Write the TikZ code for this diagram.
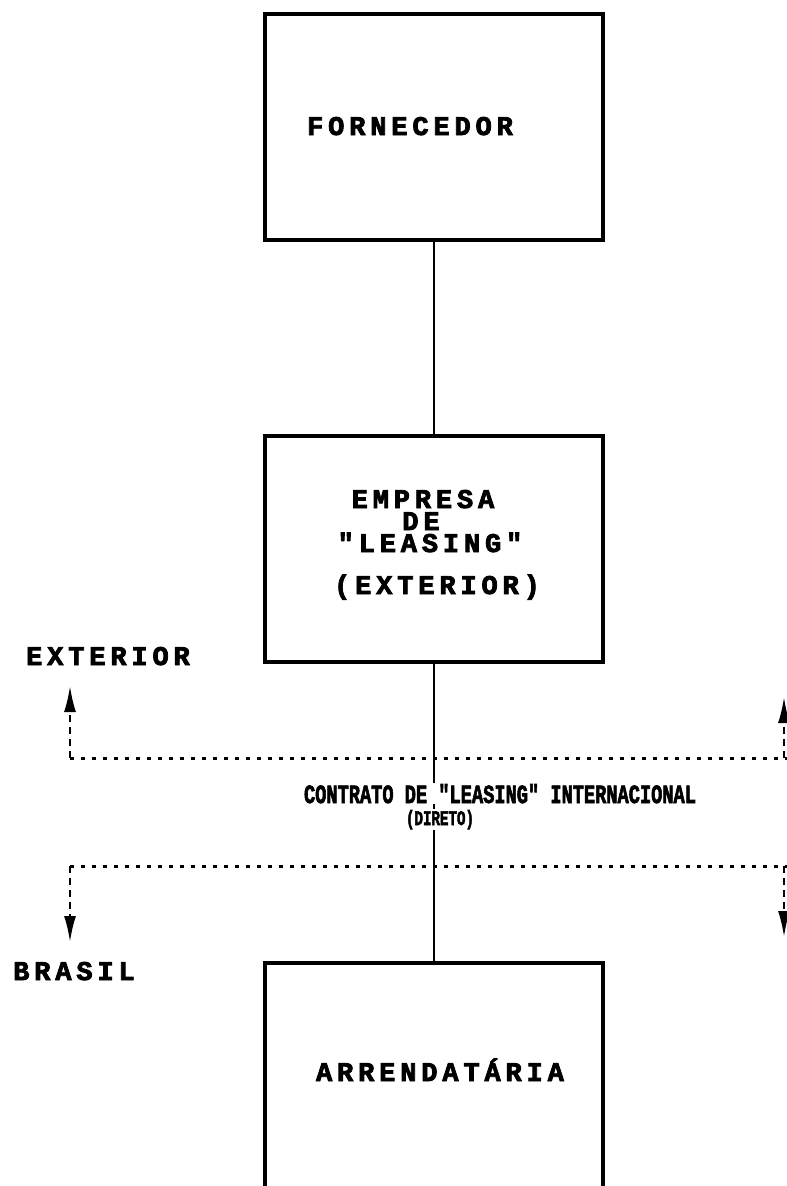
\documentclass[tikz,border=0pt]{standalone}
\usepackage{fontspec}
\setmainfont{Liberation Mono}
\newfontfamily\boxfont[LetterSpace=18,FakeBold=3]{Liberation Mono}
\newfontfamily\smallfont[FakeBold=3]{Liberation Mono}
\usetikzlibrary{arrows.meta}
\begin{document}
\begin{tikzpicture}[x=1pt,y=-1pt,
  box/.style={draw, line width=3.2pt, minimum width=338pt, minimum height=226pt, inner sep=0pt},
  lbl/.style={font=\boxfont\bfseries\fontsize{27}{27}\selectfont, inner sep=0pt, anchor=base},
  conn/.style={line width=2pt},
  dotline/.style={line width=3pt, dash pattern=on 4pt off 7pt},
  dashline/.style={line width=2.2pt, dash pattern=on 7pt off 5pt},
  tipline/.style={line width=2.2pt, -{Latex[length=26pt,width=12pt]}},
  ctext/.style={font=\smallfont\bfseries, fill=white, inner sep=1pt, anchor=base}]
\clip (0,0) rectangle (787,1186);
\fill[white] (0,0) rectangle (787,1186);
% boxes
\node[box] (forn) at (434,127) {};
\node[box] (emp) at (434,549) {};
\node[box, minimum height=260pt] (arr) at (434,1093) {};
% connectors
\draw[conn] (forn.south) -- (emp.north);
\draw[conn] (emp.south) -- (arr.north);
% box texts
\node[lbl] (t2a) at (423,508) {EMPRESA};
\node[lbl] (t2b) at (421,530) {DE};
\node[lbl] (t2c) at (430,552) {"LEASING"};
\node[lbl] (t2d) at (437,594) {(EXTERIOR)};
\node[lbl] (t1) at (410,135) {FORNECEDOR};
\node[lbl] (t3) at (440,1081) {ARRENDAT\'ARIA};
% side labels
\node[lbl] (ext) at (108,665) {EXTERIOR};
\node[lbl] (bra) at (74,980) {BRASIL};
% contract text
\node[ctext] (c1) at (500,803) {\resizebox{392pt}{19pt}{CONTRATO DE "LEASING" INTERNACIONAL}};
\node[ctext] (c2) at (440,825) {\resizebox{68pt}{15pt}{(DIRETO)}};
% boundary lines
\coordinate (ul) at (70,758);
\coordinate (ur) at (790,758);
\coordinate (ula) at (70,686);
\coordinate (ulb) at (70,704);
\coordinate (ura) at (784,697);
\coordinate (urb) at (784,715);
\coordinate (ll) at (70,866);
\coordinate (lr) at (790,866);
\coordinate (lla) at (70,942);
\coordinate (llb) at (70,924);
\coordinate (lra) at (784,937);
\coordinate (lrb) at (784,919);
\coordinate (urs) at (784,758);
\coordinate (lrs) at (784,866);
\draw[dotline] (ul) -- (ur);
\draw[dotline] (ll) -- (lr);
\draw[dashline] (ul) -- (ulb);
\draw[dashline] (urs) -- (urb);
\draw[dashline] (ll) -- (llb);
\draw[dashline] (lrs) -- (lrb);
\draw[tipline] (ulb) -- (ula);
\draw[tipline] (urb) -- (ura);
\draw[tipline] (llb) -- (lla);
\draw[tipline] (lrb) -- (lra);
\end{tikzpicture}
\end{document}
